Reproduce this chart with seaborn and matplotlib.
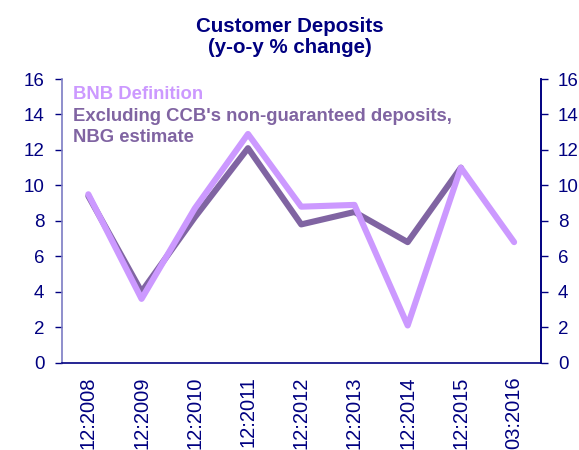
import pandas as pd
import matplotlib.pyplot as plt
import seaborn as sns

# data
periods = ['12:2008', '12:2009', '12:2010', '12:2011', '12:2012',
           '12:2013', '12:2014', '12:2015', '03:2016']
bnb_def = [9.5, 3.6, 8.7, 12.9, 8.8, 8.9, 2.1, 11.0, 6.8]
nbg_est = [9.4, 4.0, 8.2, 12.1, 7.8, 8.5, 6.8, 11.0, None]

bnb_label = 'BNB Definition'
nbg_label = "Excluding CCB's non-guaranteed deposits,\nNBG estimate"

navy = '#000080'
light = '#CC99FF'
dark = '#8064A2'

df = pd.DataFrame({
    'pos': list(range(len(periods))) * 2,
    'value': nbg_est + bnb_def,
    'series': [nbg_label] * len(periods) + [bnb_label] * len(periods),
}).dropna()

sns.set_style('white')
plt.rcParams['font.family'] = ['Liberation Sans', 'DejaVu Sans']

fig = plt.figure(figsize=(5.79, 4.5), dpi=100)
ax = fig.add_axes([0.1066, 0.194, 0.8273, 0.6304])

sns.lineplot(data=df, x='pos', y='value', hue='series',
             hue_order=[nbg_label, bnb_label], palette=[dark, light],
             linewidth=4.4, ax=ax, legend=False)

ax.set_xlim(-0.5, len(periods) - 0.5)
ax.set_ylim(0, 16)
ax.set_yticks(range(0, 17, 2))
ax.set_xlabel('')
ax.set_ylabel('')

# ticks on category boundaries, labels at the centres
ax.set_xticks([i - 0.5 for i in range(len(periods) + 1)])
ax.set_xticklabels([])
ax.set_xticks(range(len(periods)), minor=True)
ax.set_xticklabels(periods, minor=True, rotation=90, fontsize=14.5, color=navy)
ax.tick_params(axis='x', which='minor', length=0, pad=10)
ax.tick_params(axis='x', which='major', length=5, width=1, color=navy, direction='out')
ax.tick_params(axis='y', length=5, width=1, color=navy, direction='out',
               labelsize=13.5, labelcolor=navy, pad=7.5)

ax.spines['top'].set_visible(False)
ax.spines['left'].set_color('#7C7CC4')
ax.spines['bottom'].set_color(navy)
ax.spines['right'].set_color(navy)
for s in ax.spines.values():
    s.set_linewidth(1.2)

ax2 = ax.twinx()
ax2.set_ylim(0, 16)
ax2.set_yticks(range(0, 17, 2))
ax2.tick_params(axis='y', length=5, width=1, color=navy, direction='out',
                labelsize=13.5, labelcolor=navy, pad=7.5)
for side in ['top', 'left', 'bottom']:
    ax2.spines[side].set_visible(False)
ax2.spines['right'].set_color(navy)
ax2.spines['right'].set_linewidth(1.2)
ax.grid(False)
ax2.grid(False)

# text-only legend, one line at a time
legend_lines = [(bnb_label, light, 0.929)] + [
    (line, dark, y) for line, y in zip(nbg_label.split('\n'), [0.853, 0.779])]
for txt, col, y in legend_lines:
    ax.text(0.024, y, txt, transform=ax.transAxes, fontsize=13.3,
            fontweight='bold', color=col, va='baseline', ha='left')

fig.text(0.5, 0.9296, 'Customer Deposits', ha='center', va='baseline',
         fontsize=14.8, fontweight='bold', color=navy)
fig.text(0.5, 0.8816, '(y-o-y % change)', ha='center', va='baseline',
         fontsize=14.8, fontweight='bold', color=navy)

fig.savefig('out.png', dpi=100)
